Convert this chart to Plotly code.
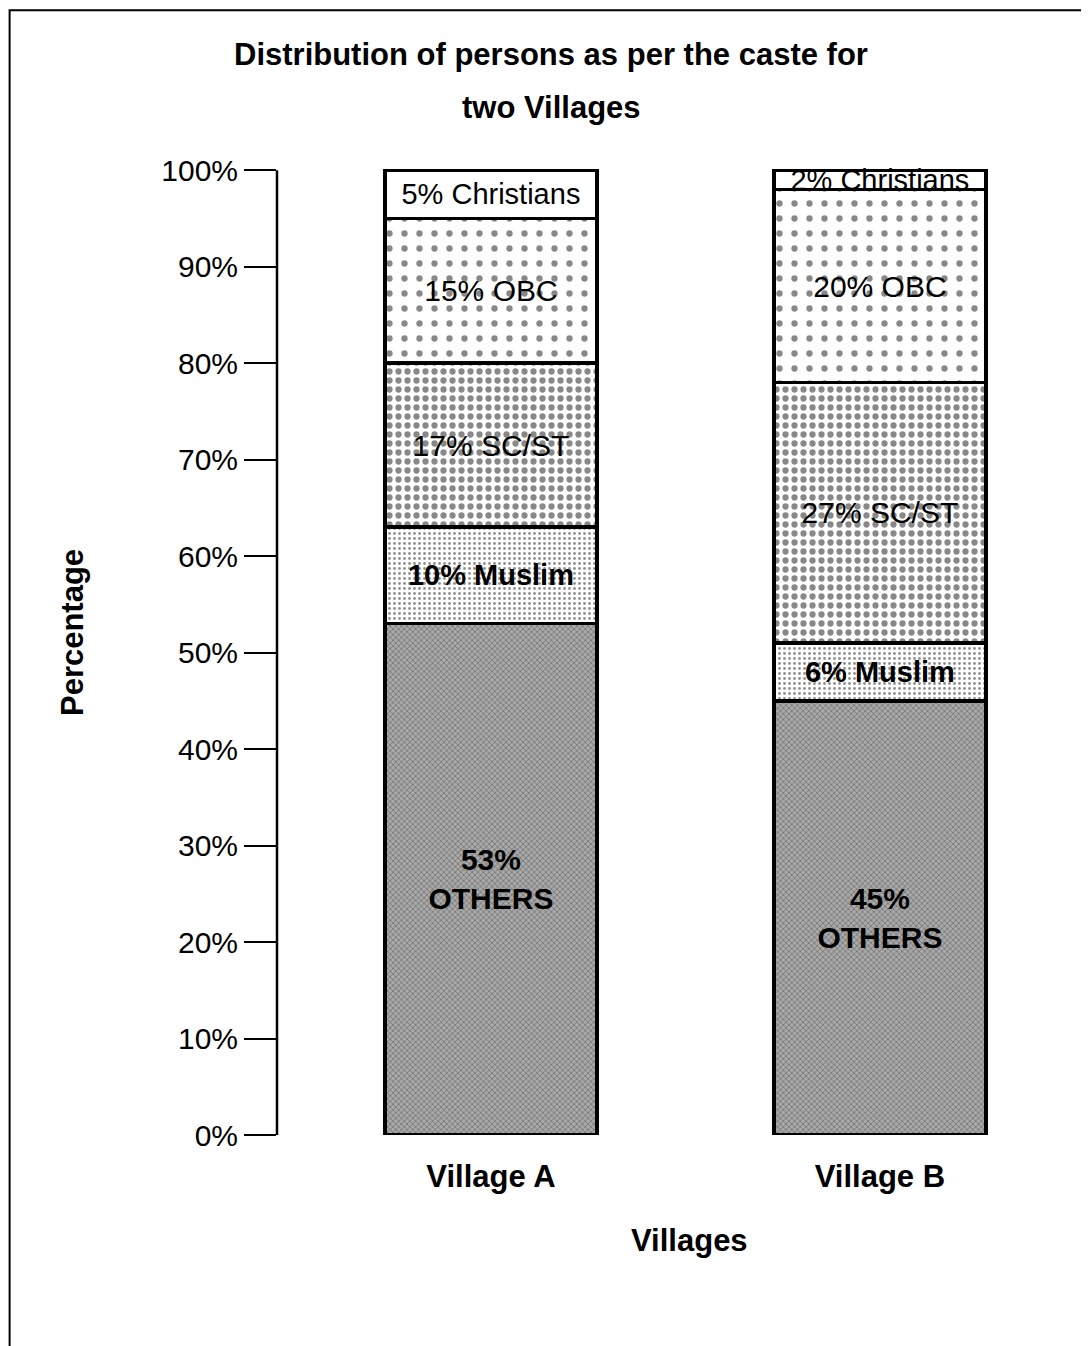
import plotly.graph_objects as go

villages = ["Village A", "Village B"]
others = [53, 45]
muslim = [10, 6]
scst = [17, 27]
obc = [15, 20]
christians = [5, 2]
y_ticks = [0, 10, 20, 30, 40, 50, 60, 70, 80, 90, 100]
y_ticklabels = [f"{v}%" for v in y_ticks]

FONT = "Liberation Sans, Arial, sans-serif"
BAR_W = 0.545
EDGE = dict(color="black", width=3.5)

fig = go.Figure()

series = [
    ("OTHERS", others, dict(bgcolor="#a9a9a9", fgcolor="#3a3a3a", shape="x", size=4, solidity=0.35),
     lambda v: f"<b>{v}%<br>OTHERS</b>", dict(size=30, color="black", family=FONT)),
    ("Muslim", muslim, dict(bgcolor="white", fgcolor="#222222", shape=".", size=5, solidity=0.25),
     lambda v: f"<b>{v}% Muslim</b>", dict(size=29, color="black", family=FONT)),
    ("SC/ST", scst, dict(bgcolor="white", fgcolor="#111111", shape=".", size=9, solidity=0.38),
     lambda v: f"{v}% SC/ST", dict(size=30, color="black", family=FONT)),
    ("OBC", obc, dict(bgcolor="white", fgcolor="#111111", shape=".", size=15, solidity=0.14),
     lambda v: f"{v}% OBC", dict(size=30, color="black", family=FONT)),
    ("Christians", christians, None,
     lambda v: f"{v}% Christians", dict(size=29, color="black", family=FONT)),
]

for name, vals, pattern, fmt, tfont in series:
    marker = dict(color="white", line=EDGE)
    if pattern is not None:
        marker["pattern"] = pattern
    fig.add_trace(go.Bar(
        x=villages, y=vals, name=name, width=BAR_W,
        marker=marker,
        text=[fmt(v) for v in vals], textposition="inside", insidetextanchor="middle",
        textangle=0, constraintext="none", textfont=tfont,
        hoverinfo="skip", showlegend=False,
    ))

fig.update_layout(
    barmode="stack",
    width=1089, height=1346,
    margin=dict(l=269, r=37, t=143, b=219),
    paper_bgcolor="white", plot_bgcolor="white",
    font=dict(family=FONT, color="black"),
    xaxis=dict(
        range=[-0.55, 1.463], showline=False, showgrid=False, zeroline=False,
        ticks="outside", ticklen=14, tickcolor="rgba(0,0,0,0)",
        tickfont=dict(size=31, family=FONT, color="black"),
        tickvals=villages, ticktext=[f"<b>{v}</b>" for v in villages],
    ),
    yaxis=dict(
        range=[0, 102], showline=False, showgrid=False, zeroline=False,
        tickvals=y_ticks, ticktext=y_ticklabels,
        ticks="outside", ticklen=32, tickwidth=2, tickcolor="black",
        tickfont=dict(size=30, family=FONT, color="black"),
    ),
    shapes=[
        dict(type="line", xref="paper", yref="y", x0=0, x1=0, y0=0, y1=100,
             line=dict(color="black", width=2.5)),
        dict(type="rect", xref="paper", yref="paper", x0=-0.3415, x1=1.06,
             y0=-0.25, y1=1.143, line=dict(color="black", width=2)),
    ],
    annotations=[
        dict(text="<b>Distribution of persons as per the caste for</b>", xref="paper", yref="paper",
             x=0.35, y=1.0976, xanchor="center", yanchor="middle", showarrow=False,
             font=dict(size=31, family=FONT, color="black")),
        dict(text="<b>two Villages</b>", xref="paper", yref="paper",
             x=0.35, y=1.0447, xanchor="center", yanchor="middle", showarrow=False,
             font=dict(size=31, family=FONT, color="black")),
        dict(text="<b>Percentage</b>", xref="paper", yref="paper",
             x=-0.262, y=0.511, xanchor="center", yanchor="middle", showarrow=False,
             textangle=-90, font=dict(size=31, family=FONT, color="black")),
        dict(text="<b>Villages</b>", xref="paper", yref="paper",
             x=0.527, y=-0.107, xanchor="center", yanchor="middle", showarrow=False,
             font=dict(size=31, family=FONT, color="black")),
    ],
)

fig.write_html("out.html")
